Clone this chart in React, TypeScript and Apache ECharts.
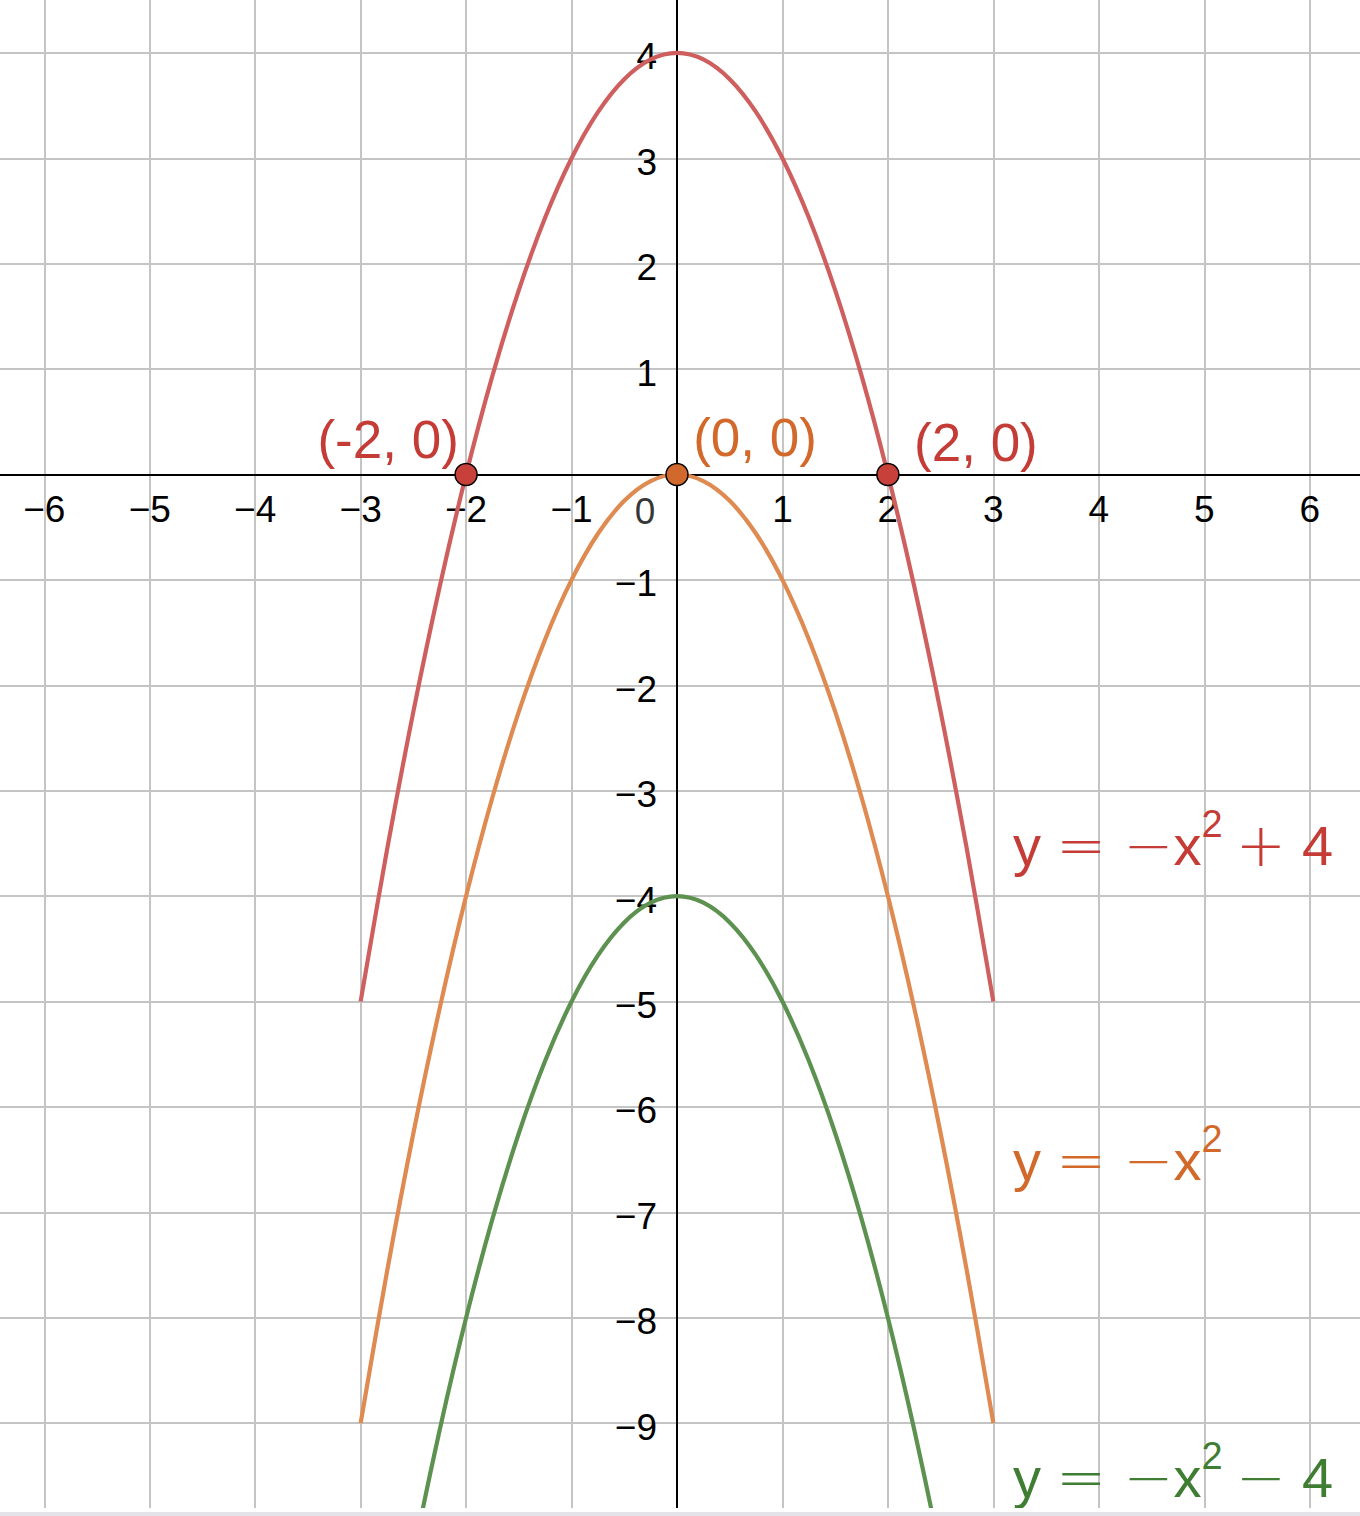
import React, { useEffect, useRef } from 'react';
import * as echarts from 'echarts';

// ---- data ----
const xs = [-3, -2.75, -2.5, -2.25, -2, -1.75, -1.5, -1.25, -1, -0.75, -0.5, -0.25, 0, 0.25, 0.5, 0.75, 1, 1.25, 1.5, 1.75, 2, 2.25, 2.5, 2.75, 3];
const redYs = [-5, -3.5625, -2.25, -1.0625, 0, 0.9375, 1.75, 2.4375, 3, 3.4375, 3.75, 3.9375, 4, 3.9375, 3.75, 3.4375, 3, 2.4375, 1.75, 0.9375, 0, -1.0625, -2.25, -3.5625, -5];
const orangeYs = [-9, -7.5625, -6.25, -5.0625, -4, -3.0625, -2.25, -1.5625, -1, -0.5625, -0.25, -0.0625, 0, -0.0625, -0.25, -0.5625, -1, -1.5625, -2.25, -3.0625, -4, -5.0625, -6.25, -7.5625, -9];
const greenYs = [-13, -11.5625, -10.25, -9.0625, -8, -7.0625, -6.25, -5.5625, -5, -4.5625, -4.25, -4.0625, -4, -4.0625, -4.25, -4.5625, -5, -5.5625, -6.25, -7.0625, -8, -9.0625, -10.25, -11.5625, -13];
const pointXs = [-2, 0, 2];
const pointYs = [0, 0, 0];
const pointLabels = ['(-2, 0)', '(0, 0)', '(2, 0)'];
const xRange = [-7, 7];
const yRange = [-10, 5];
const xLabelRange = [-6, 6];
const yLabelRange = [-9, 4];

// ---- layout / style ----
const X0 = 677, UX = 105.45, Y0 = 474.5, UY = 105.4;
const SANS = '"Liberation Sans", Arial, Helvetica, sans-serif';
const MATH = '"DejaVu Sans", sans-serif';
const TICK_FS = 37;
const C_RED_T = '#c43c35', C_RED_L = '#cf5f5f', C_RED_P = '#c8403a';
const C_OR_T = '#d2692a', C_OR_L = '#de8a50', C_OR_P = '#d2692c';
const C_GR_T = '#3e7d32', C_GR_L = '#5c9150';

const minusLabel = (v: number) => (v < 0 ? '\u2212' + String(-v) : String(v));
const tickFmt = (range: number[]) => (v: number) =>
  v === 0 || v < range[0] || v > range[1] ? '' : minusLabel(v);

function eqRich(color: string) {
  return {
    b: { fontSize: 56, fontFamily: SANS, fill: color, lineHeight: 80 },
    eq: { fontSize: 60, fontFamily: MATH, fontWeight: 200, fill: color, lineHeight: 80, padding: [0, 17, 0, 15] },
    m: { fontSize: 60, fontFamily: MATH, fontWeight: 200, fill: color, lineHeight: 80 },
    sup: { fontSize: 38, fontFamily: SANS, fill: color, lineHeight: 38, verticalAlign: 'top' },
    op: { fontSize: 60, fontFamily: MATH, fontWeight: 200, fill: color, lineHeight: 80, padding: [0, 0, 0, 13] },
    n: { fontSize: 56, fontFamily: SANS, fill: color, lineHeight: 80, padding: [0, 0, 0, 16] },
  };
}

function eqText(x: number, baseline: number, text: string, color: string) {
  return {
    type: 'text',
    x,
    y: baseline - 60,
    z: 100,
    style: { text, rich: eqRich(color), fill: color, align: 'left', verticalAlign: 'top' },
  };
}

export default function App() {
  const ref = useRef<HTMLDivElement>(null);
  useEffect(() => {
    if (!ref.current) return;
    const chart = echarts.init(ref.current, undefined, { renderer: 'svg' });
    const line = (ys: number[], color: string) => ({
      type: 'line',
      data: xs.map((x, i) => [x, ys[i]]),
      smooth: 0.35,
      showSymbol: false,
      symbol: 'none',
      lineStyle: { color, width: 4.2 },
      z: 3,
      silent: true,
    });
    const pointColors = [C_RED_P, C_OR_P, C_RED_P];
    const labelColors = [C_RED_T, C_OR_T, C_RED_T];
    const labelOffsets = [[-78, -35], [78, -37], [88, -32]];
    chart.setOption({
      animation: false,
      backgroundColor: '#ffffff',
      grid: {
        left: X0 - (0 - xRange[0]) * UX, top: Y0 - yRange[1] * UY,
        width: (xRange[1] - xRange[0]) * UX, height: (yRange[1] - yRange[0]) * UY,
        containLabel: false, outerBoundsMode: 'none',
      },
      xAxis: {
        type: 'value', min: xRange[0], max: xRange[1], interval: 1,
        position: 'bottom', offset: yRange[0] * UY,
        axisLine: { onZero: false, lineStyle: { color: '#000', width: 2 } },
        axisTick: { show: false },
        axisLabel: {
          formatter: tickFmt(xLabelRange),
          fontSize: TICK_FS, color: '#000', margin: 16, fontFamily: SANS,
        },
        splitLine: { show: true, lineStyle: { color: '#c4c4c4', width: 2 } },
        z: 2,
      },
      yAxis: {
        type: 'value', min: yRange[0], max: yRange[1], interval: 1,
        position: 'left', offset: xRange[0] * UX,
        axisLine: { onZero: false, lineStyle: { color: '#000', width: 2 } },
        axisTick: { show: false },
        axisLabel: {
          formatter: tickFmt(yLabelRange),
          fontSize: TICK_FS, color: '#000', margin: 20, fontFamily: SANS,
          verticalAlign: 'top', lineHeight: 8,
        },
        splitLine: { show: true, lineStyle: { color: '#c4c4c4', width: 2 } },
        z: 2,
      },
      series: [
        line(redYs, C_RED_L),
        line(orangeYs, C_OR_L),
        line(greenYs, C_GR_L),
        {
          type: 'scatter',
          data: [[0, 0]],
          symbolSize: 0,
          silent: true,
          z: 4,
          label: { show: true, position: 'inside', formatter: '0', offset: [-32, 37], fontSize: TICK_FS, color: '#000', fontFamily: SANS },
        },
        {
          type: 'scatter',
          silent: true,
          z: 10,
          symbolSize: 22,
          itemStyle: { opacity: 1 },
          data: pointXs.map((x, i) => ({
            value: [x, pointYs[i]],
            itemStyle: { color: pointColors[i], borderColor: '#000', borderWidth: 1.5, opacity: 1 },
            label: {
              show: true, position: 'inside', formatter: pointLabels[i], offset: labelOffsets[i],
              fontSize: 53, color: labelColors[i], fontFamily: SANS, opacity: 1,
            },
          })),
        },
      ],
      graphic: [
        { type: 'rect', z: 200, shape: { x: 0, y: 1508, width: 1360, height: 4 }, style: { fill: '#ffffff' } },
        { type: 'rect', z: 200, shape: { x: 0, y: 1512, width: 1360, height: 4 }, style: { fill: '#e3e3e9' } },
        eqText(1013, 865, '{b|y}{eq|=}{m|\u2212}{b|x}{sup|2}{op|+}{n|4}', C_RED_T),
        eqText(1013, 1180, '{b|y}{eq|=}{m|\u2212}{b|x}{sup|2}', C_OR_T),
        eqText(1013, 1497, '{b|y}{eq|=}{m|\u2212}{b|x}{sup|2}{op|\u2212}{n|4}', C_GR_T),
      ],
    });
    return () => chart.dispose();
  }, []);
  return <div ref={ref} style={{ position: 'absolute', left: 0, top: 0, width: 1360, height: 1516 }} />;
}
